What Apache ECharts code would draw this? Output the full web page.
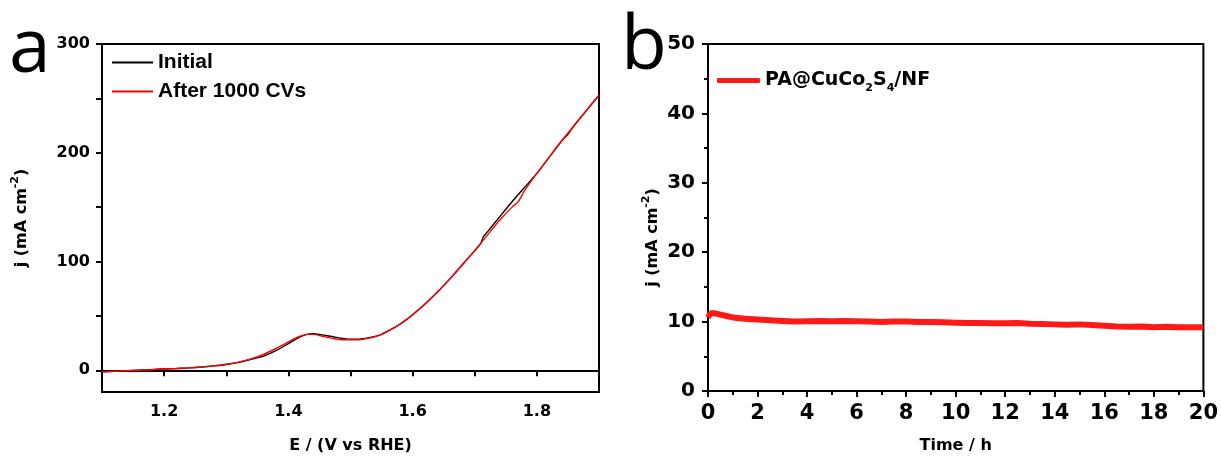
<!DOCTYPE html>
<html>
<head>
<meta charset="utf-8">
<script src="https://cdn.jsdelivr.net/npm/echarts@6/dist/echarts.min.js"></script>
<style>
html,body{margin:0;padding:0;background:#fff;}
#c{width:1221px;height:462px;}
</style>
</head>
<body>
<div id="c"></div>
<script>
// ---- Panel a data (E / V vs RHE, j / mA cm-2) ----
const potentialRed = [1.10,1.12,1.14,1.16,1.18,1.20,1.22,1.24,1.26,1.28,1.30,1.32,1.34,1.36,1.38,1.40,1.41,1.42,1.43,1.44,1.45,1.46,1.47,1.48,1.49,1.50,1.51,1.52,1.53,1.54,1.55,1.56,1.57,1.58,1.59,1.60,1.62,1.64,1.66,1.68,1.70,1.72,1.74,1.76,1.77,1.78,1.80,1.82,1.84,1.86,1.88,1.90];
const currentRed   = [-1.5,-1,-0.5,0,0.5,1.2,1.6,2.2,3,4,5.5,7.5,10.5,14.5,20,26,29,31.5,33,33,32,30.5,29.5,28.5,28,28,28,28.5,29.5,31,33,36,39,42.5,46.5,51,61,72,84,97,110,124,138,150,155,165,181,196,211,225,239,253];
const potentialBlack = [1.10,1.12,1.14,1.16,1.18,1.20,1.22,1.24,1.26,1.28,1.30,1.32,1.34,1.36,1.38,1.40,1.41,1.42,1.43,1.44,1.45,1.46,1.47,1.48,1.49,1.50,1.51,1.52,1.53,1.54,1.55,1.56,1.57,1.58,1.59,1.60,1.62,1.64,1.66,1.68,1.70,1.71,1.714,1.72,1.74,1.76,1.78,1.80,1.82,1.84,1.85,1.86,1.88,1.90];
const currentBlack   = [-1.5,-1,-0.5,0,0.5,1.2,1.6,2.2,3,4,5.3,7.2,10,13,18,24.5,28,31,33,33.5,33,32,31,30,29,28.5,28.5,29,30,31.2,33,36,39,42.5,46.5,51,61,72,84,97,110,117,123,127,141,155,168,181,196,211,217,225,239,253];
const seriesNamesA = ['Initial','After 1000 CVs'];
const xLabelsA = [1.2,1.4,1.6,1.8];
const xTicksA = [1.1,1.2,1.3,1.4,1.5,1.6,1.7,1.8,1.9];
const yLabelsA = [0,100,200,300];
const yTicksA = [0,50,100,150,200,250,300];

// ---- Panel b data (Time / h, j / mA cm-2) ----
const timeB = [0,0.1,0.25,0.5,0.75,1,1.5,2,2.5,3,3.5,4,4.5,5,5.5,6,6.5,7,7.5,8,8.5,9,9.5,10,10.5,11,11.5,12,12.5,13,13.5,14,14.5,15,15.5,16,16.5,17,17.5,18,18.5,19,19.5,20];
const currentB = [10.6,11.2,11.2,11.0,10.8,10.6,10.4,10.3,10.2,10.1,10.0,10.05,10.1,10.05,10.1,10.05,10.0,9.95,10.0,10.0,9.95,9.95,9.9,9.85,9.8,9.8,9.75,9.75,9.8,9.7,9.65,9.6,9.55,9.6,9.5,9.4,9.3,9.25,9.3,9.2,9.25,9.2,9.2,9.2];
const seriesNameB = 'PA@CuCo2S4/NF';

const pairs = (xs, ys) => xs.map((x, i) => [x, ys[i]]);
const DV = 'DejaVu Sans';
const LS = 'Liberation Sans';

const chart = echarts.init(document.getElementById('c'), null, {renderer: 'canvas'});
const axisLineStyle = {color: '#000', width: 2};
const yNameRich = {
  t: {fontFamily: DV, fontWeight: 'bold', fontSize: 16, color: '#000', lineHeight: 24},
  sup: {fontFamily: DV, fontWeight: 'bold', fontSize: 11, color: '#000', verticalAlign: 'top', lineHeight: 24}
};

chart.setOption({
  animation: false,
  backgroundColor: '#fff',
  grid: [
    {left: 102, top: 44, width: 497, height: 348, show: true, borderColor: '#000', borderWidth: 2, containLabel: false},
    {left: 708, top: 44, width: 498, height: 347, show: true, borderColor: '#000', borderWidth: 2, containLabel: false}
  ],
  legend: [
    {
      data: seriesNamesA, orient: 'vertical', left: 107, top: 47,
      icon: 'rect', itemWidth: 41, itemHeight: 2, itemGap: 8,
      textStyle: {fontFamily: LS, fontWeight: 'bold', fontSize: 21, color: '#000'}
    },
    {
      data: [seriesNameB], left: 712, top: 66,
      icon: 'roundRect', itemWidth: 43, itemHeight: 5, itemGap: 5,
      formatter: () => '{a|PA@CuCo}{s|2}{a|S}{s|4}{a|/NF}',
      textStyle: {
        color: '#000',
        rich: {
          a: {fontFamily: DV, fontWeight: 'bold', fontSize: 19, color: '#000', lineHeight: 26},
          s: {fontFamily: DV, fontWeight: 'bold', fontSize: 11, color: '#000', verticalAlign: 'bottom', lineHeight: 26}
        }
      }
    }
  ],
  xAxis: [
    {
      type: 'value', gridIndex: 0, min: 1.1, max: 1.9,
      name: 'E / (V vs RHE)', nameLocation: 'middle', nameGap: 46,
      nameTextStyle: {fontFamily: DV, fontWeight: 'bold', fontSize: 16, color: '#000'},
      axisLine: {lineStyle: axisLineStyle},
      axisTick: {length: 6, lineStyle: {color: '#000', width: 2}, customValues: xTicksA},
      axisLabel: {customValues: xLabelsA, margin: 12, fontFamily: DV, fontWeight: 'bold', fontSize: 16, color: '#000', formatter: v => v.toFixed(1)},
      splitLine: {show: false}
    },
    {
      type: 'value', gridIndex: 1, min: 0, max: 20, interval: 2,
      name: 'Time / h', nameLocation: 'middle', nameGap: 47,
      nameTextStyle: {fontFamily: DV, fontWeight: 'bold', fontSize: 16, color: '#000'},
      axisLine: {lineStyle: axisLineStyle},
      axisTick: {length: 6, lineStyle: {color: '#000', width: 2}},
      minorTick: {show: true, splitNumber: 2, length: 4, lineStyle: {color: '#000', width: 2}},
      axisLabel: {margin: 12, fontFamily: DV, fontWeight: 'bold', fontSize: 21, color: '#000'},
      splitLine: {show: false}, minorSplitLine: {show: false}
    }
  ],
  yAxis: [
    {
      type: 'value', gridIndex: 0, min: -20, max: 300,
      name: '{t|j (mA cm}{sup|-2}{t|)}', nameLocation: 'middle', nameGap: 68, nameRotate: 90,
      nameTextStyle: {rich: yNameRich},
      axisLine: {lineStyle: axisLineStyle},
      axisTick: {length: 6, lineStyle: {color: '#000', width: 2}, customValues: yTicksA},
      axisLabel: {customValues: yLabelsA, margin: 12, fontFamily: DV, fontWeight: 'bold', fontSize: 16, color: '#000'},
      splitLine: {show: false}
    },
    {
      type: 'value', gridIndex: 1, min: 0, max: 50, interval: 10,
      name: '{t|j (mA cm}{sup|-2}{t|)}', nameLocation: 'middle', nameGap: 43, nameRotate: 90,
      nameTextStyle: {rich: yNameRich, padding: [0, 40, 0, 0]},
      axisLine: {lineStyle: axisLineStyle},
      axisTick: {length: 6, lineStyle: {color: '#000', width: 2}},
      minorTick: {show: true, splitNumber: 2, length: 4, lineStyle: {color: '#000', width: 2}},
      axisLabel: {margin: 13, fontFamily: DV, fontWeight: 'bold', fontSize: 20, color: '#000'},
      splitLine: {show: false}, minorSplitLine: {show: false}
    }
  ],
  series: [
    {
      name: seriesNamesA[0], type: 'line', xAxisIndex: 0, yAxisIndex: 0,
      data: pairs(potentialBlack, currentBlack), symbol: 'none', smooth: 0.2,
      lineStyle: {color: '#000', width: 1.4}, itemStyle: {color: '#000'}
    },
    {
      name: seriesNamesA[1], type: 'line', xAxisIndex: 0, yAxisIndex: 0,
      data: pairs(potentialRed, currentRed), symbol: 'none', smooth: 0.2,
      lineStyle: {color: '#ff0000', width: 1.4}, itemStyle: {color: '#ff0000'}
    },
    {
      name: seriesNameB, type: 'line', xAxisIndex: 1, yAxisIndex: 1,
      data: pairs(timeB, currentB), symbol: 'none',
      lineStyle: {color: '#ff1a1a', width: 6}, itemStyle: {color: '#ff1a1a'}
    }
  ],
  graphic: [
    {type: 'text', left: 9, top: 13, style: {text: 'a', font: '75px "Open Sans"', fill: '#000'}},
    {type: 'text', left: 621, top: 10, style: {text: 'b', font: '75px "Open Sans"', fill: '#000'}}
  ]
});
</script>
</body>
</html>
